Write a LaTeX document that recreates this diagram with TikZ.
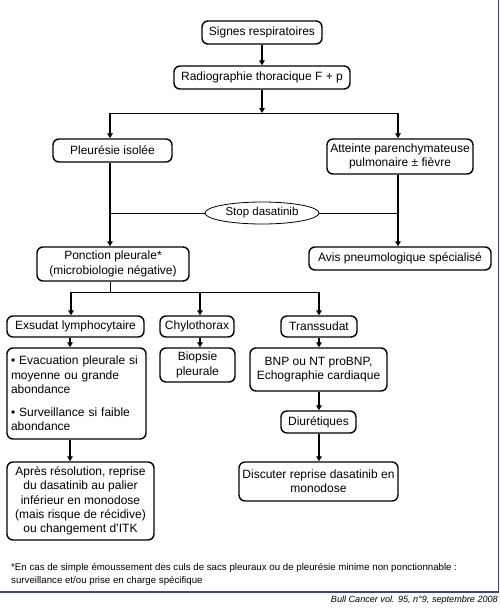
\documentclass[tikz,border=0pt]{standalone}
\usepackage{fontspec}
\setmainfont{Liberation Sans}
\usetikzlibrary{arrows.meta,shapes.geometric}
\definecolor{framecol}{HTML}{3F3F9F}
\tikzset{
  box/.style={draw, line width=1.4pt, rounded corners=6pt, inner sep=0pt, align=center,
    font=\fontsize{12}{14.4}\selectfont},
  thickarrow/.style={line width=1.6pt, -{Triangle[length=5pt,width=5.5pt]}},
  thinline/.style={line width=0.8pt},
}
\begin{document}
\begin{tikzpicture}[x=1pt,y=-1pt]
\useasboundingbox (0,0) rectangle (500,613);
% frame
\draw[framecol, line width=1.6pt] (0,591.7) -- (498.5,591.7) -- (498.5,0);

\node[box, minimum width=120pt, minimum height=23pt] (sig) at (262,32.5) {Signes respiratoires};
\node[box, minimum width=176pt, minimum height=23pt] (radio) at (262,77.5) {Radiographie thoracique F + p};
\node[box, minimum width=119pt, minimum height=23pt] (pleu) at (112.5,150.5) {Pleurésie isolée};
\node[box, minimum width=146pt, minimum height=35pt] (att) at (400,156.5) {Atteinte parenchymateuse\\pulmonaire ± fièvre};
\node[draw, ellipse, line width=0.8pt, inner sep=0pt, minimum width=114pt, minimum height=22pt,
  font=\fontsize{11.5}{14}\selectfont, fill=white] (stop) at (262,213) {Stop dasatinib};
\node[box, minimum width=152pt, minimum height=34pt] (ponc) at (113,264) {Ponction pleurale*\\(microbiologie négative)};
\node[box, minimum width=182pt, minimum height=23pt] (avis) at (400,258.5) {Avis pneumologique spécialisé};
\node[box, minimum width=137pt, minimum height=21pt] (exs) at (75.5,326.5) {Exsudat lymphocytaire};
\node[box, minimum width=74pt, minimum height=21pt] (chy) at (197,326.5) {Chylothorax};
\node[box, minimum width=76pt, minimum height=21pt] (tra) at (319,326.5) {Transsudat};
\node[box, minimum width=139pt, minimum height=91pt, text width=131pt, inner xsep=4pt, align=left] (evac) at (76.5,393.5)
  {• Evacuation pleurale si\\moyenne ou grande\\abondance\\[8pt]• Surveillance si faible\\abondance};
\node[box, minimum width=75pt, minimum height=34pt] (bio) at (197.5,365) {Biopsie\\pleurale};
\node[box, minimum width=137pt, minimum height=43pt] (bnp) at (318.5,369.5) {BNP ou NT proBNP,\\Echographie cardiaque};
\node[box, minimum width=75pt, minimum height=22pt] (diu) at (318.5,422) {Diurétiques};
\node[box, minimum width=159pt, minimum height=39pt] (disc) at (318.5,481.5) {Discuter reprise dasatinib en\\monodose};
\node[box, minimum width=147pt, minimum height=78pt] (apres) at (80.5,501)
  {Après résolution, reprise\\du dasatinib au palier\\inférieur en monodose\\(mais risque de récidive)\\ou changement d'ITK};

% connectors
\coordinate (split) at (262,113);
\coordinate (sl) at (110,113);
\coordinate (sr) at (398,113);
\coordinate (ml) at (110,213);
\coordinate (mr) at (398,213);
\coordinate (psplit) at (110,292);
\coordinate (pl) at (71,292);
\coordinate (pc) at (200,292);
\coordinate (pr) at (319,292);
\coordinate (ex) at (70,0);

\draw[thickarrow] (sig) -- (radio);
\draw[thickarrow] (radio) -- (split);
\draw[thinline] (sl) -- (sr);
\draw[thickarrow] (sl) -- (sl |- pleu.north);
\draw[thickarrow] (sr) -- (sr |- att.north);
\draw[thinline] (ml) -- (stop.west);
\draw[thinline] (stop.east) -- (mr);
\draw[thickarrow] (pleu.south -| sl) -- (sl |- ponc.north);
\draw[thickarrow] (att.south -| sr) -- (sr |- avis.north);
\draw[thinline] (ponc.south -| psplit) -- (psplit);
\draw[thinline] (pl) -- (pr);
\draw[thickarrow] (pl) -- (pl |- exs.north);
\draw[thickarrow] (pc) -- (pc |- chy.north);
\draw[thickarrow] (pr) -- (pr |- tra.north);
\draw[thickarrow] (exs.south -| ex) -- (ex |- evac.north);
\draw[thickarrow] (evac.south -| ex) -- (ex |- apres.north);
\draw[thickarrow] (chy.south -| pc) -- (pc |- bio.north);
\draw[thickarrow] (tra.south -| pr) -- (pr |- bnp.north);
\draw[thickarrow] (bnp.south -| pr) -- (pr |- diu.north);
\draw[thickarrow] (diu.south -| pr) -- (pr |- disc.north);

% footnote and source
\node[anchor=west, inner sep=0pt, align=left, font=\fontsize{9.7}{13}\selectfont] (foot) at (11,574.5)
  {*En cas de simple émoussement des culs de sacs pleuraux ou de pleurésie minime non ponctionnable :\\surveillance et/ou prise en charge spécifique};
\node[anchor=east, inner sep=0pt, font=\fontsize{9.1}{11}\selectfont\itshape] (src) at (498,600)
  {Bull Cancer vol. 95, n°9, septembre 2008};
\end{tikzpicture}
\end{document}
